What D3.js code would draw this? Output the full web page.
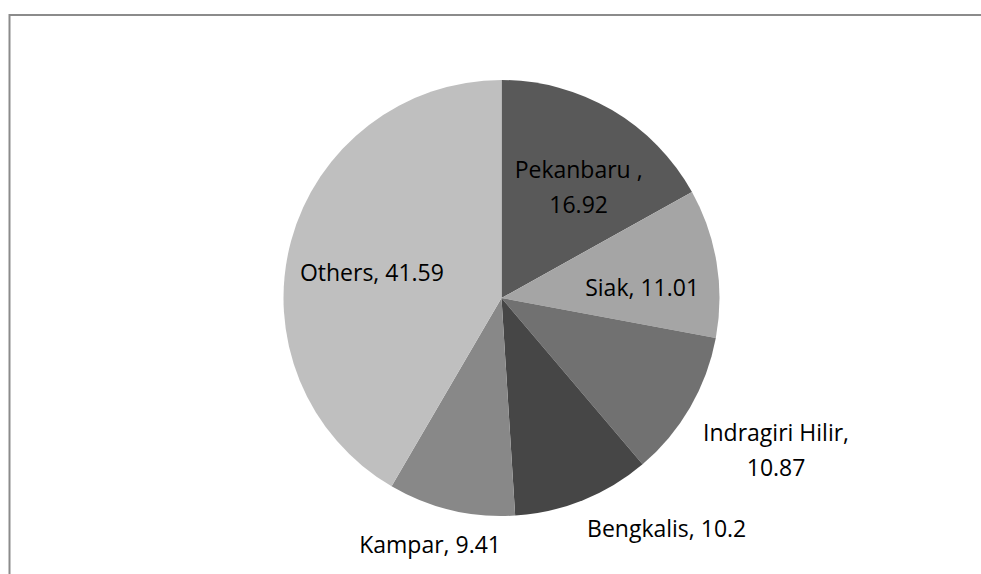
<!DOCTYPE html>
<html>
<head>
<meta charset="utf-8">
<script src="https://cdn.jsdelivr.net/npm/d3@7"></script>
<style>
  html, body { margin: 0; padding: 0; background: #fff; }
  svg { display: block; }
</style>
</head>
<body>
<div id="chart"></div>
<script>
// pie data
const categories = ['Pekanbaru ', 'Siak', 'Indragiri Hilir', 'Bengkalis', 'Kampar', 'Others'];
const shares = [16.92, 11.01, 10.87, 10.2, 9.41, 41.59];
const sliceColors = ['#595959', '#a5a5a5', '#717171', '#464646', '#888888', '#bfbfbf'];

const width = 981, height = 574;
const cx = 501.5, cy = 298, radius = 218;

// label placement: radius and angle nudge (deg) from slice mid, plus line breaks
const labelLayout = [
  { r: 135, shift: 4.4, lines: d => [d.cat + ',', d.val] },
  { r: 141, shift: 5.2, lines: d => [d.cat + ', ' + d.val] },
  { r: 314, shift: -1.1, lines: d => [d.cat + ',', d.val] },
  { r: 284, shift: -13.6, lines: d => [d.cat + ', ' + d.val] },
  { r: 257, shift: 2.8, lines: d => [d.cat + ', ' + d.val] },
  { r: 132, shift: -4.2, lines: d => [d.cat + ', ' + d.val] }
];

const data = categories.map((c, i) => ({ cat: c, val: shares[i], i }));

const svg = d3.select('#chart').append('svg')
  .attr('width', width)
  .attr('height', height)
  .attr('viewBox', [0, 0, width, height]);

// chart area border (runs off the right and bottom)
svg.append('rect')
  .attr('x', 9.5).attr('y', 15)
  .attr('width', 1000).attr('height', 600)
  .attr('fill', 'none')
  .attr('stroke', '#8b8b8b')
  .attr('stroke-width', 2);

const pie = d3.pie().sort(null).value(d => d.val);
const arcs = pie(data);
const arc = d3.arc().innerRadius(0).outerRadius(radius);

const g = svg.append('g').attr('transform', `translate(${cx},${cy})`);

g.selectAll('path.slice')
  .data(arcs)
  .join('path')
  .attr('class', 'slice')
  .attr('d', arc)
  .attr('fill', d => sliceColors[d.data.i]);

const lineH = 35;
g.selectAll('text.lbl')
  .data(arcs)
  .join('text')
  .attr('class', 'lbl')
  .attr('text-anchor', 'middle')
  .attr('font-family', '"Open Sans", "Noto Sans", sans-serif')
  .attr('font-size', 23)
  .attr('fill', '#000')
  .each(function (d) {
    const lay = labelLayout[d.data.i];
    const a = (d.startAngle + d.endAngle) / 2 + lay.shift * Math.PI / 180;
    const x = lay.r * Math.sin(a);
    const y = -lay.r * Math.cos(a);
    const lines = lay.lines(d.data);
    const t = d3.select(this);
    lines.forEach((ln, k) => {
      t.append('tspan')
        .attr('x', x)
        .attr('y', y + (k - (lines.length - 1) / 2) * lineH)
        .attr('dy', '0.35em')
        .text(ln);
    });
  });
</script>
</body>
</html>
